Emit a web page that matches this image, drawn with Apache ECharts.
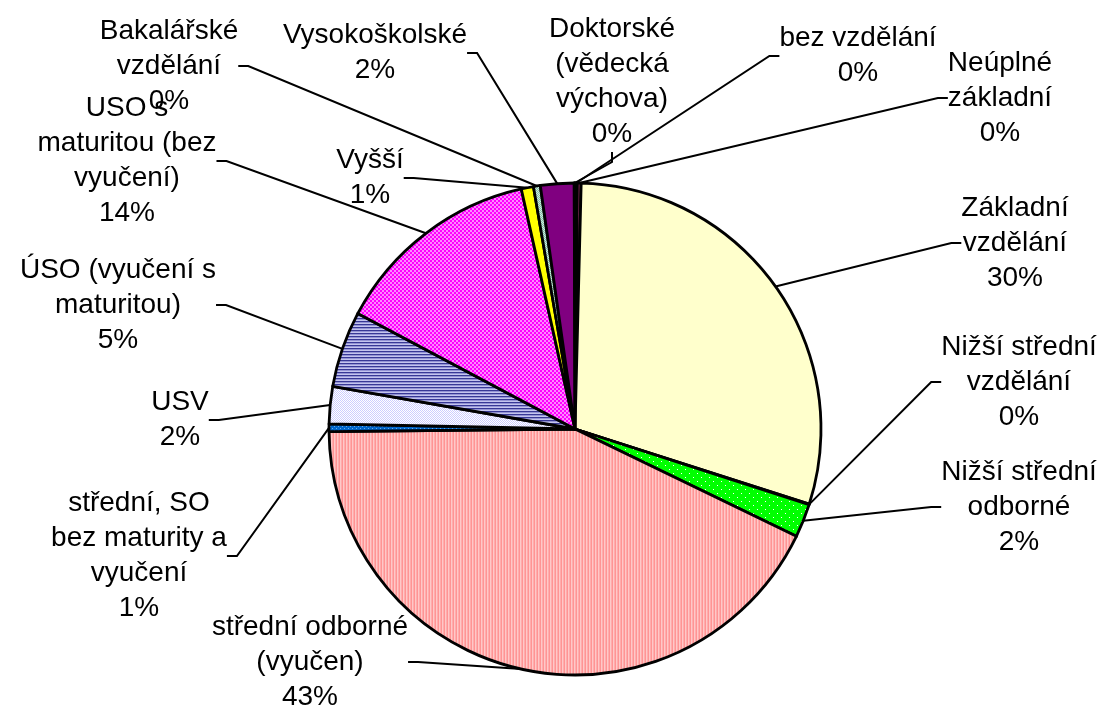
<!DOCTYPE html>
<html>
<head>
<meta charset="utf-8">
<script src="https://cdn.jsdelivr.net/npm/echarts@6/dist/echarts.min.js"></script>
<style>html,body{margin:0;padding:0;background:#fff}#c{width:1103px;height:711px}</style>
</head>
<body>
<div id="c"></div>
<script>
// ---- data ----
var categories = [
  'bez vzdělání',
  'Neúplné\nzákladní',
  'Základní\nvzdělání',
  'Nižší střední\nvzdělání',
  'Nižší střední\nodborné',
  'střední odborné\n(vyučen)',
  'střední, SO\nbez maturity a\nvyučení',
  'USV',
  'ÚSO (vyučení s\nmaturitou)',
  'USO s\nmaturitou (bez\nvyučení)',
  'Vyšší',
  'Bakalářské\nvzdělání',
  'Vysokoškolské',
  'Doktorské\n(vědecká\nvýchova)'
];
var shares = [0.15, 0.25, 29.5, 0.05, 2.2, 42.6, 0.5, 2.45, 5.0, 13.7, 0.8, 0.45, 2.2, 0.05];

// ---- layout (label centres, px) ----
var labelPos = [
  [858, 56], [1000, 98], [1015, 243], [1019, 382], [1019, 507],
  [310, 662], [139, 556], [180, 420], [118, 305], [127, 161],
  [370, 178], [169, 66], [375, 53], [612, 82]
];

// ---- fill patterns ----
function tile(w, h, draw) {
  var c = document.createElement('canvas');
  c.width = w; c.height = h;
  var g = c.getContext('2d');
  draw(g);
  return { image: c, repeat: 'repeat' };
}
function px(g, col, x, y, w, h) { g.fillStyle = col; g.fillRect(x, y, w || 1, h || 1); }

var fills = [
  '#9999FF',
  '#993366',
  '#FFFFCC',
  '#CCFFFF',
  tile(8, 8, function (g) { px(g, '#00FF00', 0, 0, 8, 8); px(g, '#FFFFFF', 1, 1); px(g, '#FFFFFF', 5, 5); }),
  tile(3, 1, function (g) { px(g, '#FF9494', 0, 0); px(g, '#FFC8C8', 1, 0); px(g, '#FFACAC', 2, 0); }),
  tile(4, 4, function (g) { px(g, '#0066CC', 0, 0, 4, 4); px(g, '#66AAEE', 0, 0); px(g, '#66AAEE', 2, 2); }),
  tile(2, 2, function (g) { px(g, '#FFFFFF', 0, 0, 2, 2); px(g, '#CCCCFF', 0, 0); px(g, '#CCCCFF', 1, 1); }),
  tile(1, 3, function (g) { px(g, '#383896', 0, 0); px(g, '#9494D4', 0, 1); px(g, '#C4C4EE', 0, 2); }),
  tile(4, 4, function (g) { px(g, '#FF00FF', 0, 0, 4, 4); px(g, '#FF88FF', 0, 0, 2, 2); px(g, '#FF88FF', 2, 2, 2, 2); }),
  '#FFFF00',
  tile(2, 2, function (g) { px(g, '#CCEEDD', 0, 0, 2, 2); px(g, '#88BBAA', 0, 0); px(g, '#88BBAA', 1, 1); }),
  '#800080',
  '#800000'
];

var chart = echarts.init(document.getElementById('c'), null, { renderer: 'canvas' });
chart.setOption({
  animation: false,
  backgroundColor: '#ffffff',
  series: [{
    type: 'pie',
    center: [575, 429],
    radius: 246,
    startAngle: 90,
    clockwise: true,
    avoidLabelOverlap: false,
    minShowLabelAngle: 0,
    itemStyle: { borderColor: '#000000', borderWidth: 2.8 },
    label: {
      show: true,
      position: 'outside',
      color: '#000000',
      fontFamily: 'Liberation Sans, Arial, sans-serif',
      fontSize: 28,
      lineHeight: 35,
      align: 'center',
      formatter: function (p) { return p.name + '\n' + Math.round(p.value) + '%'; }
    },
    labelLine: { show: true, length: 10, length2: 10, lineStyle: { color: '#000000', width: 2 } },
    labelLayout: function (p) {
      var q = labelPos[p.dataIndex];
      return { x: q[0], y: q[1], align: 'center', verticalAlign: 'middle' };
    },
    emphasis: { disabled: true },
    data: categories.map(function (n, i) {
      return { name: n, value: shares[i], itemStyle: { color: fills[i] } };
    })
  }]
});
</script>
</body>
</html>
